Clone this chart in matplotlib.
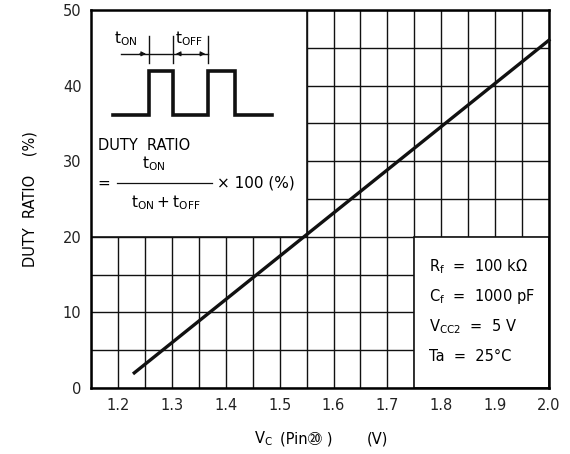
import matplotlib.pyplot as plt
from matplotlib.patches import Rectangle
import numpy as np

# duty ratio vs control voltage (straight line)
vc = [1.23, 2.0]
duty = [2.0, 46.0]

x_ticks = [1.2, 1.3, 1.4, 1.5, 1.6, 1.7, 1.8, 1.9, 2.0]
x_labels = ["1.2", "1.3", "1.4", "1.5", "1.6", "1.7", "1.8", "1.9", "2.0"]
y_ticks = [0, 10, 20, 30, 40, 50]

conditions = [r"$\mathregular{R_f}$  =  100 k$\Omega$",
              r"$\mathregular{C_f}$  =  1000 pF",
              r"$\mathregular{V_{CC2}}$  =  5 V",
              "Ta  =  25°C"]

plt.rcParams['font.family'] = ['DejaVu Sans', 'Noto Sans CJK JP']
plt.rcParams['mathtext.default'] = 'regular'

fig = plt.figure(figsize=(5.7, 4.54), dpi=100)
ax = fig.add_axes([0.160, 0.1454, 0.803, 0.8326])

ax.set_xlim(1.15, 2.0)
ax.set_ylim(0, 50)
ax.set_xticks(x_ticks)
ax.set_xticklabels(x_labels)
ax.set_xticks(np.arange(1.15, 2.0, 0.1), minor=True)
ax.set_yticks(y_ticks)
ax.set_yticks([5, 15, 25, 35, 45], minor=True)
ax.tick_params(which='both', length=0, labelsize=10.5, pad=7, colors='#222222')
ax.grid(which='both', color='#111111', linewidth=1.0)
ax.set_axisbelow(True)
for s in ax.spines.values():
    s.set_linewidth(1.8)

# white boxes that hide the grid
ax.add_patch(Rectangle((1.15, 20), 0.40, 30, facecolor='white', edgecolor='#111111',
                       linewidth=1.2, zorder=2))
ax.add_patch(Rectangle((1.75, 0), 0.25, 20, facecolor='white', edgecolor='#111111',
                       linewidth=1.2, zorder=2))

ax.plot(vc, duty, color='#111111', linewidth=2.4, zorder=3, clip_on=False)

# pulse sketch
px = [1.191, 1.257, 1.257, 1.302, 1.302, 1.367, 1.367, 1.417, 1.417, 1.485]
py = [36.1, 36.1, 41.9, 41.9, 36.1, 36.1, 41.9, 41.9, 36.1, 36.1]
ax.plot(px, py, color='#111111', linewidth=2.6, zorder=4, solid_joinstyle='miter')

# dimension marks
ax.plot([1.205, 1.367], [44.2, 44.2], color='#111111', linewidth=1.0, zorder=4)
for xv in [1.257, 1.302, 1.367]:
    ax.plot([xv, xv], [43.0, 46.6], color='#111111', linewidth=1.0, zorder=4)
arr = dict(arrowstyle='-|>', color='#111111', lw=0.8, mutation_scale=7)
ax.annotate('', xy=(1.257, 44.2), xytext=(1.235, 44.2), arrowprops=arr, zorder=4)
ax.annotate('', xy=(1.302, 44.2), xytext=(1.322, 44.2), arrowprops=arr, zorder=4)
ax.annotate('', xy=(1.367, 44.2), xytext=(1.347, 44.2), arrowprops=arr, zorder=4)
ax.text(1.193, 45.6, r"$\mathregular{t_{ON}}$", fontsize=11, zorder=4)
ax.text(1.305, 45.6, r"$\mathregular{t_{OFF}}$", fontsize=11, zorder=4)

# duty ratio formula
ax.text(1.162, 32.1, "DUTY  RATIO", fontsize=10.5, va='center', zorder=4)
ax.text(1.162, 27.1, "=", fontsize=11, va='center', zorder=4)
ax.plot([1.197, 1.375], [27.1, 27.1], color='#111111', linewidth=0.9, zorder=4)
ax.text(1.266, 28.4, r"$\mathregular{t_{ON}}$", fontsize=11, ha='center', va='bottom', zorder=4)
ax.text(1.288, 25.7, r"$\mathregular{t_{ON} + t_{OFF}}$", fontsize=11, ha='center', va='top', zorder=4)
ax.text(1.384, 27.1, "× 100 (%)", fontsize=11, va='center', zorder=4)

# conditions
for i, t in enumerate(conditions):
    ax.text(1.778, 16.0 - 3.95 * i, t, fontsize=10.5, va='center', zorder=4)

ax.set_ylabel("DUTY  RATIO    (%)", fontsize=10.5, labelpad=18)

# x label in pieces: mathtext has no font fallback for the circled 20
fig.text(0.479, 0.024, r"$\mathregular{V_C}$", fontsize=10.5, ha='right', va='baseline')
fig.text(0.491, 0.024, "(Pin⑳ )", fontsize=10.5, ha='left', va='baseline',
         family=['DejaVu Sans', 'Noto Sans CJK JP'])
fig.text(0.644, 0.024, "(V)", fontsize=10.5, ha='left', va='baseline')

fig.savefig("out.png", dpi=100)
